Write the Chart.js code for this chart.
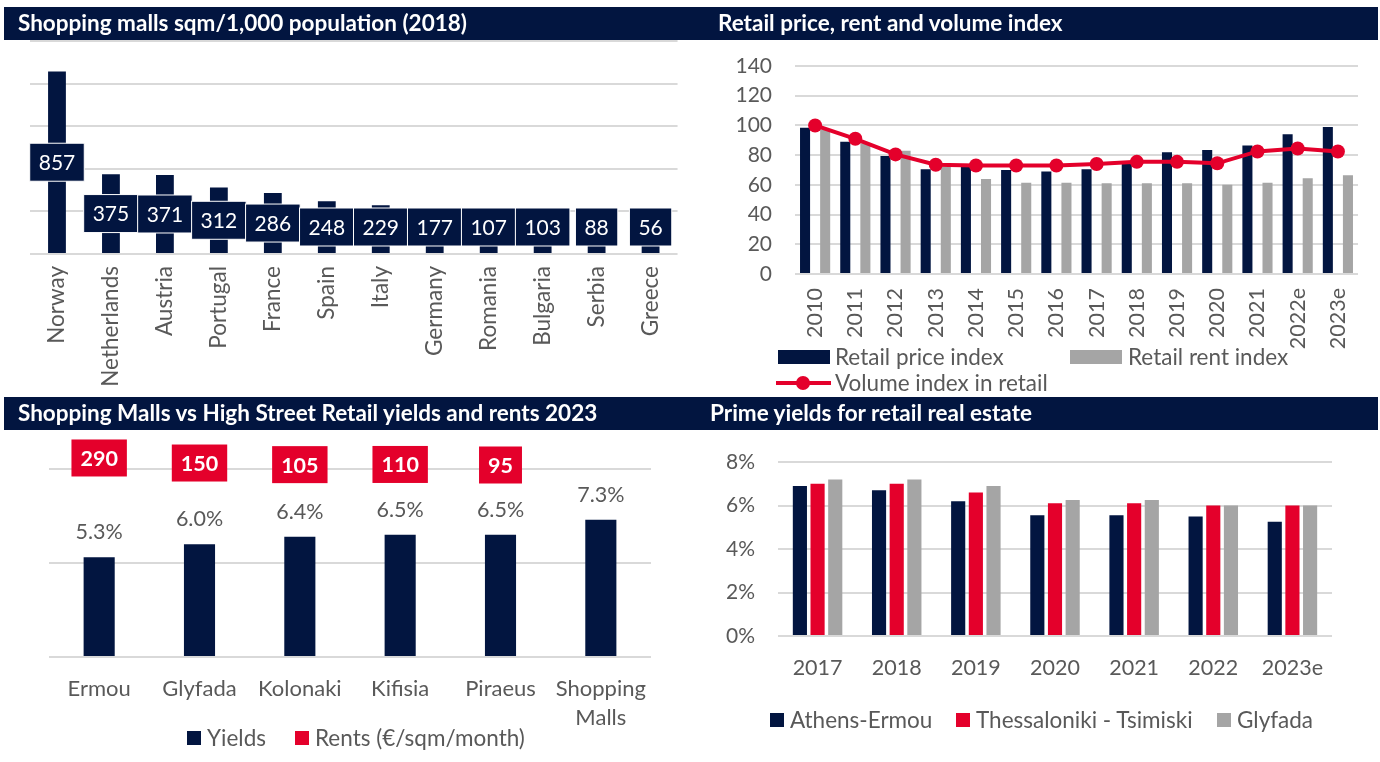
<!DOCTYPE html>
<html><head><meta charset="utf-8">
<script src="https://cdn.jsdelivr.net/npm/chart.js@4.4.1/dist/chart.umd.min.js"></script>
<style>
body{margin:0;background:#fff;}
#wrap{position:relative;width:1380px;height:762px;overflow:hidden;font-family:Lato,sans-serif;}
.tbar{position:absolute;left:4px;width:1374px;height:33px;background:#021540;z-index:2;}
.title{position:absolute;color:#fff;font-weight:bold;font-size:22.5px;line-height:33px;white-space:nowrap;z-index:3;}
canvas{position:absolute;z-index:1;}
.leg{position:absolute;color:#595959;font-size:22.5px;line-height:22px;white-space:nowrap;z-index:3;}
.sw{position:absolute;z-index:3;}
</style></head>
<body><div id="wrap">
<div class="tbar" style="top:7px"></div>
<div class="tbar" style="top:397px"></div>
<div class="title" style="left:18px;top:6px">Shopping malls sqm/1,000 population (2018)</div>
<div class="title" style="left:718px;top:6px">Retail price, rent and volume index</div>
<div class="title" style="left:18px;top:396px">Shopping Malls vs High Street Retail yields and rents 2023</div>
<div class="title" style="left:710px;top:396px">Prime yields for retail real estate</div>

<canvas id="c1" width="690" height="390" style="left:0;top:0"></canvas>
<canvas id="c2" width="690" height="400" style="left:690px;top:0"></canvas>
<canvas id="c3" width="690" height="372" style="left:0;top:390px"></canvas>
<canvas id="c4" width="690" height="372" style="left:690px;top:390px"></canvas>

<!-- legend chart 2 -->
<div class="sw" style="left:778px;top:350px;width:52px;height:14px;background:#021540"></div>
<div class="leg" style="left:835px;top:346px">Retail price index</div>
<div class="sw" style="left:1070px;top:350px;width:52px;height:14px;background:#A5A5A5"></div>
<div class="leg" style="left:1128px;top:346px">Retail rent index</div>
<div class="sw" style="left:776px;top:381px;width:55px;height:4px;background:#E4002B"></div>
<div class="sw" style="left:796px;top:376px;width:14px;height:14px;border-radius:7px;background:#E4002B"></div>
<div class="leg" style="left:835px;top:372px">Volume index in retail</div>

<!-- legend chart 3 -->
<div class="sw" style="left:187px;top:731px;width:14px;height:14px;background:#021540"></div>
<div class="leg" style="left:207px;top:727px">Yields</div>
<div class="sw" style="left:295px;top:731px;width:14px;height:14px;background:#E4002B"></div>
<div class="leg" style="left:315px;top:727px">Rents (€/sqm/month)</div>

<!-- legend chart 4 -->
<div class="sw" style="left:770px;top:713px;width:14px;height:14px;background:#021540"></div>
<div class="leg" style="left:790px;top:709px">Athens-Ermou</div>
<div class="sw" style="left:956px;top:713px;width:14px;height:14px;background:#E4002B"></div>
<div class="leg" style="left:976px;top:709px">Thessaloniki - Tsimiski</div>
<div class="sw" style="left:1217px;top:713px;width:14px;height:14px;background:#A5A5A5"></div>
<div class="leg" style="left:1237px;top:709px">Glyfada</div>
</div>

<script>
// ---------- DATA ----------
const mallCountries = ['Norway','Netherlands','Austria','Portugal','France','Spain','Italy','Germany','Romania','Bulgaria','Serbia','Greece'];
const mallSqmPer1000 = [857,375,371,312,286,248,229,177,107,103,88,56];

const indexYears = ['2010','2011','2012','2013','2014','2015','2016','2017','2018','2019','2020','2021','2022e','2023e'];
const retailPriceIndex = [98.5,89,79.5,70.5,72.5,70,69,70.5,76,82,83.5,86.5,94,99];
const retailRentIndex  = [97.5,88,83,72,64,61.5,61.5,61,61,61,60,61.5,64.5,66.5];
const volumeIndex      = [100,91,80.5,73.5,73,73,73,74,75.5,75.5,74.5,82.5,84.5,82.5];

const streetLocations = ['Ermou','Glyfada','Kolonaki','Kifisia','Piraeus',['Shopping','Malls']];
const yieldsPct = [5.3,6.0,6.4,6.5,6.5,7.3];
const rentsEurSqm = [290,150,105,110,95,null];

const primeYears = ['2017','2018','2019','2020','2021','2022','2023e'];
const athensErmou = [6.9,6.7,6.2,5.55,5.55,5.5,5.25];
const thessalonikiTsimiski = [7.0,7.0,6.6,6.1,6.1,6.0,6.0];
const glyfadaYield = [7.2,7.2,6.9,6.25,6.25,6.0,6.0];

// ---------- STYLE ----------
const NAVY='#021540', RED='#E4002B', GREYBAR='#A5A5A5', TXT='#595959', GRID='#D9D9D9';
const FAM='Lato';
const f = (s,w)=>({family:FAM,size:s,weight:w||'normal'});
Chart.defaults.font.family=FAM;

// chart 1 label boxes
const boxLabels = {
  id:'boxLabels',
  afterDatasetsDraw(chart){
    const ctx=chart.ctx; const meta=chart.getDatasetMeta(0);
    ctx.save(); ctx.font='21px '+FAM; ctx.textAlign='center'; ctx.textBaseline='middle';
    meta.data.forEach((bar,i)=>{
      const txt=String(chart.data.datasets[0].data[i]);
      const w=ctx.measureText(txt).width+18, h=38;
      let cy=(bar.y+bar.base)/2; cy=Math.min(cy, bar.base-26);
      ctx.fillStyle=NAVY; ctx.fillRect(bar.x-w/2, cy-h/2, w, h);
      ctx.strokeStyle='#fff'; ctx.lineWidth=1; ctx.strokeRect(bar.x-w/2, cy-h/2, w, h);
      ctx.fillStyle='#fff'; ctx.fillText(txt, bar.x, cy+1);
    });
    ctx.restore();
  }
};

new Chart(document.getElementById('c1'),{
  type:'bar',
  data:{labels:mallCountries,datasets:[{data:mallSqmPer1000,backgroundColor:NAVY,barPercentage:0.33,categoryPercentage:1}]},
  options:{responsive:false,animation:false,
    layout:{padding:{left:30,right:10,top:41,bottom:0}},
    plugins:{legend:{display:false},tooltip:{enabled:false}},
    scales:{
      x:{grid:{display:false,drawTicks:false},border:{display:false},
         ticks:{color:TXT,font:f(22.5),minRotation:90,maxRotation:90,padding:12,autoSkip:false},
         afterFit(s){s.height=136;}},
      y:{min:0,max:1000,ticks:{display:false,stepSize:200},grid:{color:GRID,lineWidth:2,drawTicks:false},border:{display:false},
         afterFit(s){s.width=0;}}
    }},
  plugins:[boxLabels]
});

new Chart(document.getElementById('c2'),{
  type:'bar',
  data:{labels:indexYears,datasets:[
    {type:'line',label:'Volume index in retail',data:volumeIndex,borderColor:RED,backgroundColor:RED,borderWidth:4,pointRadius:7,pointBackgroundColor:RED,pointBorderWidth:0,order:0},
    {label:'Retail price index',data:retailPriceIndex,backgroundColor:NAVY,barPercentage:0.5,categoryPercentage:1,order:1},
    {label:'Retail rent index',data:retailRentIndex,backgroundColor:GREYBAR,barPercentage:0.5,categoryPercentage:1,order:1}
  ]},
  options:{responsive:false,animation:false,
    layout:{padding:{left:0,right:22,top:66,bottom:0}},
    plugins:{legend:{display:false},tooltip:{enabled:false}},
    scales:{
      x:{grid:{display:false,drawTicks:false},border:{display:false},
         ticks:{color:TXT,font:f(21.5),minRotation:90,maxRotation:90,padding:14,autoSkip:false},
         afterFit(s){s.height=126;}},
      y:{min:0,max:140,ticks:{stepSize:20,color:TXT,font:f(21),padding:23},grid:{color:GRID,lineWidth:2,drawTicks:false},border:{display:false},
         afterFit(s){s.width=105;}}
    }}
});

// chart 3 labels
const yieldRentLabels = {
  id:'yrl',
  afterDatasetsDraw(chart){
    const ctx=chart.ctx; const meta=chart.getDatasetMeta(0);
    ctx.save(); ctx.textAlign='center'; ctx.textBaseline='middle';
    meta.data.forEach((bar,i)=>{
      ctx.font='21.5px '+FAM; ctx.fillStyle=TXT;
      ctx.fillText(yieldsPct[i].toFixed(1)+'%', bar.x, bar.y-25);
      const r=rentsEurSqm[i];
      if(r!=null){
        ctx.font='bold 21.5px '+FAM;
        const t=String(r); const w=ctx.measureText(t).width+18, h=37;
        const cy=chart.chartArea.top-4-(r-95)*0.036;
        ctx.fillStyle=RED; ctx.fillRect(bar.x-w/2, cy-h/2, w, h);
        ctx.fillStyle='#fff'; ctx.fillText(t, bar.x, cy+1);
      }
    });
    ctx.restore();
  }
};

new Chart(document.getElementById('c3'),{
  type:'bar',
  data:{labels:streetLocations,datasets:[{label:'Yields',data:yieldsPct,backgroundColor:NAVY,barPercentage:0.31,categoryPercentage:1}]},
  options:{responsive:false,animation:false,
    layout:{padding:{left:49,right:39,top:79,bottom:0}},
    plugins:{legend:{display:false},tooltip:{enabled:false}},
    scales:{
      x:{grid:{display:false,drawTicks:false},border:{display:false},
         ticks:{color:TXT,font:{family:FAM,size:22,lineHeight:1.3},maxRotation:0,minRotation:0,padding:18,autoSkip:false},
         afterFit(s){s.height=105;}},
      y:{min:0,max:10,ticks:{display:false,stepSize:5},grid:{color:GRID,lineWidth:2,drawTicks:false},border:{display:false},
         afterFit(s){s.width=0;}}
    }},
  plugins:[yieldRentLabels]
});

new Chart(document.getElementById('c4'),{
  type:'bar',
  data:{labels:primeYears,datasets:[
    {label:'Athens-Ermou',data:athensErmou,backgroundColor:NAVY,barPercentage:0.8,categoryPercentage:0.67},
    {label:'Thessaloniki - Tsimiski',data:thessalonikiTsimiski,backgroundColor:RED,barPercentage:0.8,categoryPercentage:0.67},
    {label:'Glyfada',data:glyfadaYield,backgroundColor:GREYBAR,barPercentage:0.8,categoryPercentage:0.67}
  ]},
  options:{responsive:false,animation:false,
    layout:{padding:{left:0,right:48,top:72,bottom:0}},
    plugins:{legend:{display:false},tooltip:{enabled:false}},
    scales:{
      x:{grid:{display:false,drawTicks:false},border:{display:false},
         ticks:{color:TXT,font:f(21.5),maxRotation:0,minRotation:0,padding:19,autoSkip:false},
         afterFit(s){s.height=126;}},
      y:{min:0,max:8,ticks:{stepSize:2,color:TXT,font:f(21),padding:23,callback:v=>v+'%'},grid:{color:GRID,lineWidth:2,drawTicks:false},border:{display:false},
         afterFit(s){s.width=88;}}
    }}
});
</script>
</body></html>
